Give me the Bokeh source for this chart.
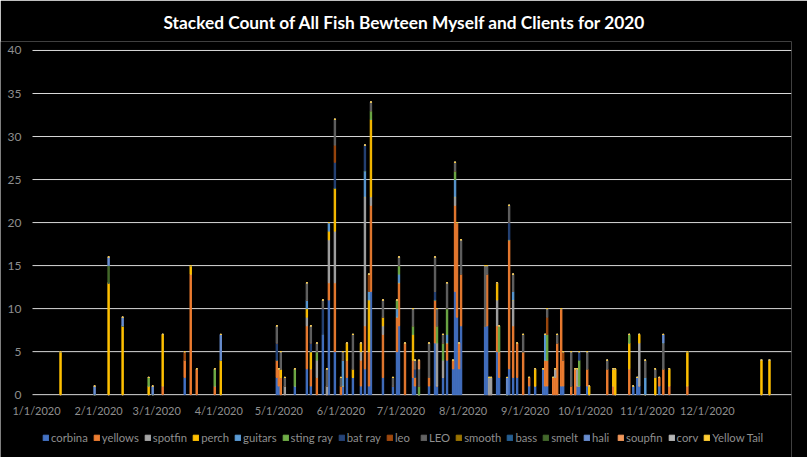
import datetime as dt
from bokeh.plotting import figure
from bokeh.models import ColumnDataSource, Legend, LegendItem, Range1d
from bokeh.core.properties import value
from bokeh.embed import file_html
from bokeh.resources import INLINE

title_text = "Stacked Count of All Fish Bewteen Myself and Clients for 2020"

species = ["corbina", "yellows", "spotfin", "perch", "guitars", "sting ray", "bat ray",
           "leo", "LEO", "smooth", "bass", "smelt", "hali", "soupfin", "corv", "Yellow Tail"]
colors = ["#4472C4", "#ED7D31", "#A5A5A5", "#FFC000", "#5B9BD5", "#70AD47", "#264478",
          "#9E480E", "#636363", "#997300", "#255E91", "#43682B", "#698ED0", "#F1975A",
          "#B7B7B7", "#FFCD33"]

corbina = {"2020-03-15": 2, "2020-04-30": 2, "2020-05-01": 1, "2020-05-09": 1, "2020-05-15": 3,
           "2020-05-17": 1, "2020-05-23": 7, "2020-05-26": 11, "2020-05-29": 5, "2020-06-02": 1,
           "2020-06-04": 2, "2020-06-07": 2, "2020-06-11": 1, "2020-06-13": 3, "2020-06-15": 1,
           "2020-06-16": 12, "2020-06-22": 2, "2020-06-27": 1, "2020-06-29": 5, "2020-06-30": 8,
           "2020-07-07": 2, "2020-07-08": 1, "2020-07-15": 1, "2020-07-18": 6, "2020-07-19": 1,
           "2020-07-22": 2, "2020-07-24": 4, "2020-07-27": 3, "2020-07-28": 12, "2020-07-29": 9,
           "2020-07-30": 3, "2020-07-31": 8, "2020-08-12": 8, "2020-08-13": 8, "2020-08-18": 5,
           "2020-08-19": 2, "2020-08-24": 3, "2020-08-26": 2, "2020-08-28": 2, "2020-09-03": 1,
           "2020-09-06": 1, "2020-09-10": 3, "2020-09-11": 1, "2020-09-12": 1, "2020-09-19": 1,
           "2020-09-20": 1, "2020-09-27": 1, "2020-09-28": 1, "2020-10-02": 1, "2020-10-25": 1,
           "2020-10-27": 2, "2020-10-28": 1, "2020-11-07": 1}
yellows = {"2020-03-04": 1, "2020-03-15": 2, "2020-03-18": 14, "2020-03-21": 3, "2020-03-30": 1,
           "2020-04-30": 2, "2020-05-01": 2, "2020-05-02": 2, "2020-05-15": 5, "2020-05-17": 2,
           "2020-05-20": 2, "2020-05-26": 2, "2020-05-29": 8, "2020-06-01": 1, "2020-06-04": 2,
           "2020-06-11": 3, "2020-06-13": 5, "2020-06-15": 4, "2020-06-16": 10, "2020-06-22": 5,
           "2020-06-29": 4, "2020-06-30": 5, "2020-07-03": 6, "2020-07-07": 2, "2020-07-08": 1,
           "2020-07-15": 1, "2020-07-18": 5, "2020-07-24": 2, "2020-07-27": 1, "2020-07-28": 10,
           "2020-07-29": 11, "2020-07-30": 3, "2020-07-31": 6, "2020-08-13": 6, "2020-08-18": 3,
           "2020-08-19": 3, "2020-08-24": 15, "2020-08-26": 6, "2020-08-28": 4, "2020-08-31": 5,
           "2020-09-03": 1, "2020-09-11": 3, "2020-09-12": 3, "2020-09-15": 2, "2020-09-16": 2,
           "2020-09-17": 6, "2020-09-19": 9, "2020-09-20": 3, "2020-09-24": 1, "2020-09-26": 3,
           "2020-10-02": 2, "2020-10-12": 3, "2020-10-15": 1, "2020-10-23": 3, "2020-11-07": 1,
           "2020-11-09": 3, "2020-11-12": 1, "2020-11-21": 1}
spotfin = {"2020-05-04": 1, "2020-05-15": 1, "2020-05-20": 2, "2020-05-25": 1, "2020-05-26": 5,
           "2020-05-29": 6, "2020-06-11": 1, "2020-06-13": 15, "2020-06-16": 1, "2020-06-22": 1,
           "2020-07-19": 5, "2020-07-22": 2, "2020-07-28": 1, "2020-08-14": 2, "2020-08-15": 2,
           "2020-08-18": 3, "2020-08-26": 3, "2020-09-16": 1, "2020-09-27": 2, "2020-10-28": 5}
perch = {"2020-01-13": 5, "2020-02-06": 13, "2020-02-13": 8, "2020-02-26": 1, "2020-03-04": 6,
         "2020-03-18": 1, "2020-04-02": 4, "2020-05-02": 1, "2020-05-15": 1, "2020-05-17": 2,
         "2020-05-26": 1, "2020-05-29": 5, "2020-06-04": 2, "2020-06-07": 1, "2020-06-11": 1,
         "2020-06-15": 6, "2020-06-16": 9, "2020-06-22": 1, "2020-07-07": 3, "2020-08-18": 2,
         "2020-09-06": 2, "2020-10-03": 1, "2020-10-15": 2, "2020-10-16": 3, "2020-10-23": 3,
         "2020-10-28": 1, "2020-11-05": 2, "2020-11-12": 2, "2020-11-21": 4, "2020-12-28": 4,
         "2021-01-01": 4}
guitars = {"2020-05-15": 1, "2020-05-26": 1, "2020-06-02": 3, "2020-06-13": 3, "2020-06-15": 1,
           "2020-06-29": 1, "2020-06-30": 1, "2020-07-24": 1, "2020-07-28": 2, "2020-08-26": 1,
           "2020-09-11": 3, "2020-10-31": 2}
sting_ray = {"2020-02-26": 1, "2020-03-30": 2, "2020-05-09": 2, "2020-05-20": 1, "2020-06-16": 1,
             "2020-06-29": 1, "2020-06-30": 1, "2020-07-07": 1, "2020-07-10": 1, "2020-07-19": 2,
             "2020-07-22": 2, "2020-07-24": 3, "2020-07-28": 1, "2020-08-19": 3, "2020-09-12": 3,
             "2020-09-28": 3, "2020-10-23": 1}
bat_ray = {"2020-04-30": 2, "2020-05-17": 1, "2020-05-23": 3, "2020-05-29": 3, "2020-06-13": 3,
           "2020-07-08": 1, "2020-07-18": 1, "2020-08-24": 2, "2020-09-28": 1}
leo = {"2020-03-15": 1, "2020-05-29": 2, "2020-06-15": 2, "2020-09-12": 2, "2020-09-20": 1}
LEO = {"2020-04-30": 2, "2020-05-02": 2, "2020-05-04": 1, "2020-05-15": 2, "2020-05-17": 2,
       "2020-05-20": 1, "2020-05-23": 1, "2020-05-25": 2, "2020-05-29": 3, "2020-06-01": 1,
       "2020-06-02": 1, "2020-06-07": 4, "2020-06-16": 1, "2020-06-22": 2, "2020-06-27": 1,
       "2020-06-30": 1, "2020-07-07": 2, "2020-07-08": 1, "2020-07-10": 2, "2020-07-15": 4,
       "2020-07-18": 4, "2020-07-19": 2, "2020-07-22": 1, "2020-07-24": 3, "2020-07-28": 1,
       "2020-07-31": 4, "2020-08-12": 7, "2020-08-13": 1, "2020-08-24": 2, "2020-08-26": 2,
       "2020-08-31": 2, "2020-09-12": 1, "2020-09-17": 1, "2020-09-24": 4, "2020-10-02": 2,
       "2020-10-12": 1, "2020-10-31": 2, "2020-11-05": 1, "2020-11-09": 3}
smooth = {}
bass = {}
smelt = {"2020-02-06": 2}
hali = {"2020-01-30": 1, "2020-02-06": 1, "2020-02-13": 1, "2020-02-28": 1, "2020-04-02": 3,
        "2020-08-23": 2, "2020-11-09": 1}
soupfin = {"2020-07-10": 1}
corv = {}
yellow_tail = {}

series = [corbina, yellows, spotfin, perch, guitars, sting_ray, bat_ray, leo, LEO,
          smooth, bass, smelt, hali, soupfin, corv, yellow_tail]

tick_dates = ["2020-01-01", "2020-02-01", "2020-03-01", "2020-04-01", "2020-05-01", "2020-06-01",
              "2020-07-01", "2020-08-01", "2020-09-01", "2020-10-01", "2020-11-01", "2020-12-01"]
tick_labels = ["1/1/2020", "2/1/2020", "3/1/2020", "4/1/2020", "5/1/2020", "6/1/2020",
               "7/1/2020", "8/1/2020", "9/1/2020", "10/1/2020", "11/1/2020", "12/1/2020"]
y_ticks = [0, 5, 10, 15, 20, 25, 30, 35, 40]
y_tick_labels = ["0", "5", "10", "15", "20", "25", "30", "35", "40"]

# ---- build table ----
all_dates = sorted(set(k for s in series for k in s))
keys = ["s%d" % i for i in range(len(species))]
data = {"date": [dt.datetime.strptime(d, "%Y-%m-%d") for d in all_dates]}
for k, s in zip(keys, series):
    data[k] = [s.get(d, 0) for d in all_dates]
source = ColumnDataSource(data)

DAY = 86400000
TXT = "#8E8E8E"
FONT = "Lato"

# layout constants: plot area 759 px wide (32..791), 345 px tall for 0..40 (49..394)
GRID_START = dt.datetime(2019, 12, 30)
GRID_END = dt.datetime(2021, 1, 12)
PX_PER_DAY = 759 / 379.0
PX_PER_UNIT = 345 / 40.0
X_START = GRID_START - dt.timedelta(days=32 / PX_PER_DAY)
Y_BOTTOM = -63 / PX_PER_UNIT
Y_TOP = 40 + 9 / PX_PER_UNIT
LABEL_Y = -16 / PX_PER_UNIT

p = figure(width=807, height=457, x_axis_type="datetime",
           x_range=Range1d(X_START, GRID_END),
           y_range=Range1d(Y_BOTTOM, Y_TOP),
           output_backend="svg", toolbar_location=None,
           background_fill_color="black", border_fill_color="black",
           min_border_left=0, min_border_right=16, min_border_top=40, min_border_bottom=0)
p.outline_line_color = None
p.xaxis.visible = False
p.yaxis.visible = False
p.grid.visible = False

# horizontal gridlines at the value ticks
n = len(y_ticks)
p.segment(x0=[GRID_START] * n, y0=y_ticks, x1=[GRID_END] * n, y1=y_ticks,
          line_color="#D9D9D9", line_width=1)

renderers = p.vbar_stack(keys, x="date", width=0.7 * DAY, color=colors, source=source)

# value labels on the left
ylab_src = ColumnDataSource(dict(x=[GRID_START] * n, y=y_ticks, text=y_tick_labels))
p.text(x="x", y="y", text="text", source=ylab_src, text_align="right", text_baseline="middle",
       x_offset=-11, text_font=value(FONT), text_font_size="12px", text_color=TXT)

# month labels under the zero line
lab_src = ColumnDataSource(dict(x=[dt.datetime.strptime(d, "%Y-%m-%d") for d in tick_dates],
                                y=[LABEL_Y] * len(tick_dates), text=tick_labels))
p.text(x="x", y="y", text="text", source=lab_src, text_align="center", text_baseline="middle",
       text_font=value(FONT), text_font_size="11px", text_color=TXT)

p.title.text = title_text
p.title.align = "left"
p.title.offset = 163
p.title.text_color = "white"
p.title.text_font = FONT
p.title.text_font_style = "bold"
p.title.text_font_size = "17.3px"
p.title.standoff = 18

legend = Legend(items=[LegendItem(label=s, renderers=[r]) for s, r in zip(species, renderers)],
                orientation="horizontal", location=(42, 13))
legend.background_fill_alpha = 0
legend.border_line_color = None
legend.label_text_color = TXT
legend.label_text_font = FONT
legend.label_text_font_size = "11.3px"
legend.glyph_width = 7
legend.glyph_height = 7
legend.label_standoff = 2
legend.label_height = 14
legend.spacing = 5
legend.padding = 4
legend.margin = 0
p.add_layout(legend)

open("out.html", "w").write(file_html(p, INLINE))
